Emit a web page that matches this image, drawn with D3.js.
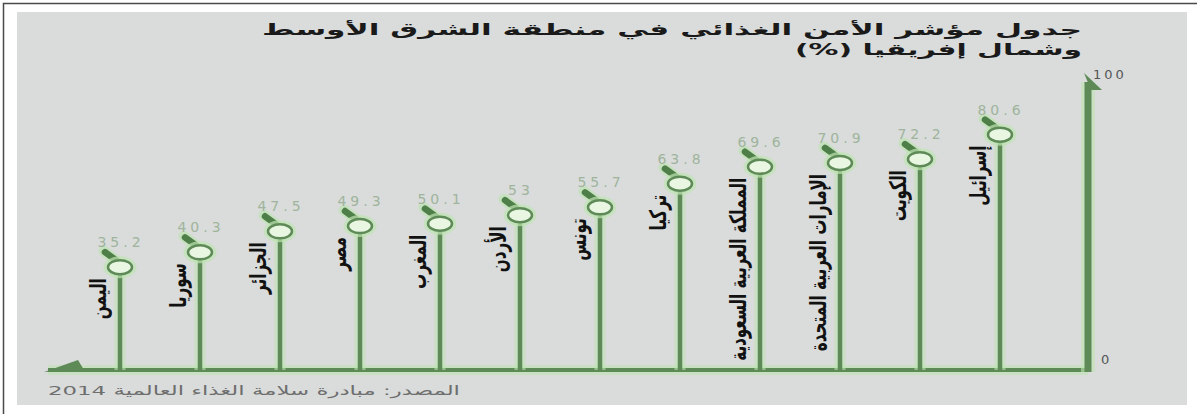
<!DOCTYPE html>
<html>
<head>
<meta charset="utf-8">
<script src="https://cdnjs.cloudflare.com/ajax/libs/d3/7.8.5/d3.min.js"></script>
<style>
  html, body { margin: 0; padding: 0; background: #fff; }
  svg { display: block; font-family: "DejaVu Sans", "Noto Sans", sans-serif; }
</style>
</head>
<body>
<svg></svg>
<script>
// ---- data ----
const countries = ['اليمن', 'سوريا', 'الجزائر', 'مصر', 'المغرب', 'الأردن', 'تونس', 'تركيا',
    'المملكة العربية السعودية', 'الإمارات العربية المتحدة', 'الكويت', 'إسرائيل'];
const scores = [35.2, 40.3, 47.5, 49.3, 50.1, 53, 55.7, 63.8, 69.6, 70.9, 72.2, 80.6];
const axisTicks = [0, 100];
const titleLines = ['جدول مؤشر الأمن الغذائي في منطقة الشرق الأوسط', 'وشمال إفريقيا (%)'];
const sourceText = 'المصدر: مبادرة سلامة الغذاء العالمية 2014';

const size = {w: 1197, h: 414};
const dark = '#5d8a56', halo = '#bfe4b2';

const svg = d3.select('svg').attr('width', size.w).attr('height', size.h);

// frame + grey panel
svg.append('path').attr('d', `M3.5,${size.h} V3.5 H${size.w}`)
    .attr('fill', 'none').attr('stroke', '#4a4a4a').attr('stroke-width', 1.5);
svg.append('rect').attr('x', 17).attr('y', 12).attr('width', 1170).attr('height', 393)
    .attr('fill', '#d9dcdb');

// scales
const x = d3.scalePoint().domain(countries).range([120, 1000]);
const y = d3.scaleLinear().domain([0, 100]).range([370, 78]);
const axisX = 1088;

const rows = countries.map((c, i) => ({name: c, v: scores[i]}));

const chartG = svg.append('g');

// baseline with halo + left half-arrow
chartG.append('line').attr('x1', 48).attr('x2', axisX).attr('y1', y(0)).attr('y2', y(0))
    .attr('stroke', halo).attr('stroke-width', 10).attr('opacity', 0.6);
chartG.append('line').attr('x1', 48).attr('x2', axisX + 3).attr('y1', y(0)).attr('y2', y(0))
    .attr('stroke', dark).attr('stroke-width', 4);
chartG.append('path')
    .attr('d', `M44,${y(0) + 2} L78,${y(0) - 10} L84,${y(0)} Z`)
    .attr('fill', dark);

// stems
const stems = chartG.append('g').selectAll('g').data(rows).join('g');
stems.append('line')
    .attr('x1', d => x(d.name)).attr('x2', d => x(d.name))
    .attr('y1', y(0)).attr('y2', d => y(d.v))
    .attr('stroke', halo).attr('stroke-width', 11).attr('opacity', 0.6);
stems.append('line')
    .attr('x1', d => x(d.name)).attr('x2', d => x(d.name))
    .attr('y1', y(0)).attr('y2', d => y(d.v))
    .attr('stroke', dark).attr('stroke-width', 4.5);

// little pin pointing into each circle
stems.append('line')
    .attr('x1', d => x(d.name) - 16).attr('y1', d => y(d.v) - 16)
    .attr('x2', d => x(d.name) - 2).attr('y2', d => y(d.v) - 5)
    .attr('stroke', halo).attr('stroke-width', 11).attr('stroke-linecap', 'round').attr('opacity', 0.7);
stems.append('line')
    .attr('x1', d => x(d.name) - 15).attr('y1', d => y(d.v) - 15)
    .attr('x2', d => x(d.name) - 4).attr('y2', d => y(d.v) - 7)
    .attr('stroke', '#4f7f49').attr('stroke-width', 6.5).attr('stroke-linecap', 'round');

// circles (flattened)
stems.append('ellipse')
    .attr('cx', d => x(d.name)).attr('cy', d => y(d.v))
    .attr('rx', 14.5).attr('ry', 9)
    .attr('fill', 'none').attr('stroke', halo).attr('stroke-width', 4).attr('opacity', 0.7);
stems.append('ellipse')
    .attr('cx', d => x(d.name)).attr('cy', d => y(d.v))
    .attr('rx', 12).attr('ry', 7)
    .attr('fill', '#e9f7e2').attr('stroke', dark).attr('stroke-width', 2.5);

// value labels
stems.append('text')
    .attr('x', d => x(d.name) + 1).attr('y', d => y(d.v) - 25)
    .attr('text-anchor', 'middle').attr('dominant-baseline', 'central')
    .attr('font-size', 14).attr('letter-spacing', 4)
    .attr('fill', '#9fb49b')
    .text(d => d.v);

// country names, rotated, hanging below the circle
stems.append('text')
    .attr('transform', d => `translate(${x(d.name) - 22},${y(d.v) + 11}) rotate(-90) scale(0.66,1)`)
    .attr('direction', 'rtl').attr('text-anchor', 'start')
    .attr('dominant-baseline', 'central')
    .attr('font-size', 23).attr('font-weight', 'bold')
    .attr('fill', '#111')
    .text(d => d.name);

// 100 % reference axis
chartG.append('line').attr('x1', axisX).attr('x2', axisX).attr('y1', y(0) + 2).attr('y2', y(100) + 4)
    .attr('stroke', halo).attr('stroke-width', 14).attr('opacity', 0.6);
chartG.append('line').attr('x1', axisX).attr('x2', axisX).attr('y1', y(0) + 2).attr('y2', y(100) + 4)
    .attr('stroke', dark).attr('stroke-width', 7);
chartG.append('path')
    .attr('d', `M${axisX - 4},${y(100) - 5} L${axisX + 14},${y(100) + 12} L${axisX + 3},${y(100) + 12} Z`)
    .attr('fill', dark);

chartG.selectAll('text.tick').data(axisTicks).join('text').classed('tick', true)
    .attr('x', d => d === 100 ? axisX + 5 : axisX + 13)
    .attr('y', d => d === 100 ? y(d) - 4 : y(d) - 11)
    .attr('dominant-baseline', 'central')
    .attr('font-size', 13).attr('letter-spacing', 3)
    .attr('fill', '#555')
    .text(d => d);

// title
svg.append('g').selectAll('text').data(titleLines).join('text')
    .attr('x', 1082).attr('y', (d, i) => 35 + i * 20)
    .attr('direction', 'rtl').attr('text-anchor', 'start')
    .attr('font-size', 16).attr('font-weight', 'bold')
    .attr('fill', '#1a1a1a')
    .attr('textLength', (d, i) => i === 0 ? 820 : 287)
    .attr('lengthAdjust', 'spacingAndGlyphs')
    .text(d => d);

// source
svg.append('text')
    .attr('x', 460).attr('y', 395)
    .attr('direction', 'rtl').attr('text-anchor', 'start')
    .attr('font-size', 13)
    .attr('fill', '#6e6e6e')
    .attr('textLength', 412).attr('lengthAdjust', 'spacingAndGlyphs')
    .text(sourceText);
</script>
</body>
</html>
